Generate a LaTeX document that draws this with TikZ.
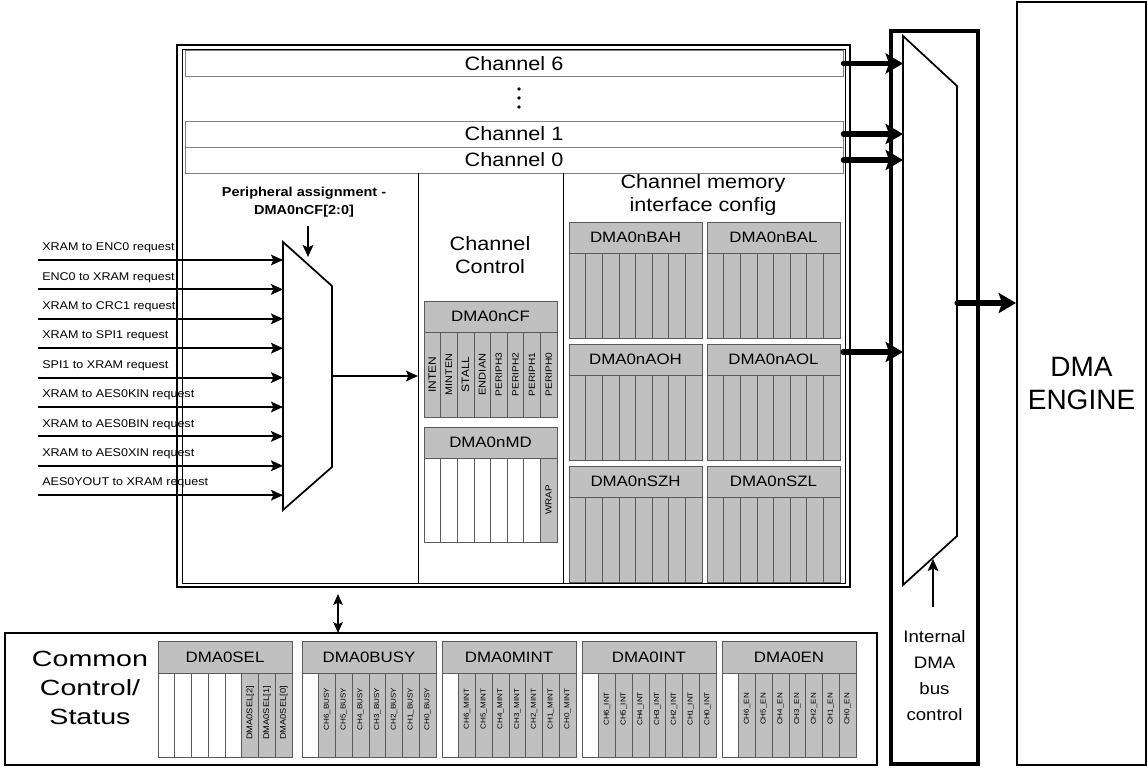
\documentclass[tikz,border=0pt]{standalone}
\usepackage{fontspec}
\setmainfont{Liberation Sans}[FakeStretch=1.12]
\newfontfamily\plainsans{Liberation Sans}
\newfontfamily\widesans{Liberation Sans}[FakeStretch=1.3]
\usetikzlibrary{arrows.meta, calc}
\definecolor{reggray}{HTML}{C0C0C0}
\definecolor{regline}{HTML}{5A5A5A}
\definecolor{chline}{HTML}{7F7F7F}

\begin{document}
\begin{tikzpicture}[x=0.75pt, y=-0.75pt,
    chrow/.style={draw=chline, line width=0.5pt, minimum width=493.5pt, minimum height=19.5pt,
                  inner sep=0pt, font=\fontsize{14.5}{16.5}\selectfont},
    coltxt/.style={font=\fontsize{14.5}{17.5}\selectfont, align=center, inner sep=0pt},
    regcell/.style={draw=regline, line width=0.5pt, fill=reggray},
    emptycell/.style={draw=regline, line width=0.5pt, fill=white},
    reghead/.style={font=\fontsize{11.3}{13}\selectfont, inner sep=0pt},
    bitlbl/.style={font=\fontsize{#1}{#1}\selectfont, rotate=90, inner sep=0pt},
    req/.style={font=\fontsize{8.4}{10}\selectfont, anchor=west, inner sep=0pt},
    sig/.style={-{Stealth[length=9pt, width=8pt, inset=1.8pt]}, line width=1.4pt},
    bus/.style={-{Stealth[length=13pt, width=15pt, inset=2.5pt]}, line width=3.8pt, line cap=round},
    mux/.style={draw, line width=1.3pt, fill=white, line join=miter},
]
    \useasboundingbox (0,0) rectangle (1148,767);

    % Channel block frame
    \draw[line width=1.8pt] (177,45) rectangle (850,587);
    \draw[line width=0.5pt] (182,49) rectangle (845,583);

    % Channels
    \node[chrow] (ch6) at (514,63.5) {Channel 6};
    \node[chrow] (ch1) at (514,134) {Channel 1};
    \node[chrow] (ch0) at (514,160) {Channel 0};
    \foreach \dy in {89,98,107}
        \fill (519,\dy) circle (1.4pt);

    % Columns
    \draw[line width=0.6pt] (418,173) -- (418,583);
    \draw[line width=0.6pt] (563,173) -- (563,583);
    \node[coltxt] (ctltitle) at (490,255) {Channel\\Control};
    \node[coltxt] (memtitle) at (703,195) {Channel memory\\interface config};

    % Peripheral assignment mux
    \draw[mux] (283,242) -- (332,286) -- (332,467) -- (283,510) -- cycle;
    \node[font=\bfseries\fontsize{9.7}{13.5}\selectfont, align=center] (perlbl) at (304,202)
        {Peripheral assignment -\\DMA0nCF[2:0]};
    \coordinate (lmuxsrc) at (308,226);
    \coordinate (lmuxsel) at (308,257);
    \draw[sig] (lmuxsrc) -- (lmuxsel);
    \foreach \lbl [count=\i from 0] in {XRAM to ENC0 request, ENC0 to XRAM request,
            XRAM to CRC1 request, XRAM to SPI1 request, SPI1 to XRAM request,
            XRAM to AES0KIN request, XRAM to AES0BIN request, XRAM to AES0XIN request,
            AES0YOUT to XRAM request} {
        \coordinate (in\i) at (38,260+29.4*\i);
        \coordinate (lmux\i) at (283,260+29.4*\i);
        \draw[sig] (in\i) -- (lmux\i);
        \node[req] (req\i) at (42,248+29.4*\i) {\lbl};
    }
    \coordinate (lmuxout) at (332,376);
    \coordinate (cfin) at (418,376);
    \draw[sig] (lmuxout) -- (cfin);

    % Channel control registers
    \draw[regcell] (424,301) rectangle (557,332);
    \node[reghead] (cf) at (490.5,316.5) {DMA0nCF};
    \foreach \lbl/\fs [count=\k from 0] in {INTEN/8, MINTEN/7.2, STALL/8, ENDIAN/7.4,
            PERIPH3/6.8, PERIPH2/6.8, PERIPH1/6.8, PERIPH0/6.8} {
        \draw[regcell] (424+16.625*\k,332) rectangle ++(16.625,85);
        \node[bitlbl=\fs] (cfb\k) at (432.3+16.625*\k,374.5) {\lbl};
    }
    \draw[regcell] (424,427) rectangle (557,458);
    \node[reghead] (md) at (490.5,442.5) {DMA0nMD};
    \foreach \k in {0,...,6}
        \draw[emptycell] (424+16.625*\k,458) rectangle ++(16.625,84);
    \draw[regcell] (540.375,458) rectangle (557,542);
    \node[bitlbl=6.6] (mdwrap) at (548.7,500) {WRAP};

    % Channel memory interface registers
    \foreach \rx/\ry/\rname/\rid in {569/222/DMA0nBAH/bah, 707/222/DMA0nBAL/bal,
            569/344/DMA0nAOH/aoh, 707/344/DMA0nAOL/aol,
            569/466/DMA0nSZH/szh, 707/466/DMA0nSZL/szl} {
        \draw[regcell] (\rx,\ry) rectangle ++(133,31);
        \node[reghead] (\rid) at (\rx+66.5,\ry+15.5) {\rname};
        \foreach \k in {0,...,7}
            \draw[regcell] (\rx+16.625*\k,\ry+31) rectangle ++(16.625,85);
    }

    % Internal DMA bus control
    \draw[line width=2.3pt] (891,31) rectangle (978,764);
    \draw[mux] (903,36) -- (957,86) -- (957,536) -- (903,585) -- cycle;
    \node[font=\fontsize{12.5}{19.5}\selectfont, align=center] (busctl) at (934.5,676)
        {Internal\\DMA\\bus\\control};
    \coordinate (rmuxsrc) at (933,607);
    \coordinate (rmuxsel) at (933,559);
    \draw[sig] (rmuxsrc) -- (rmuxsel);
    \coordinate (rmuxl) at (903,0);
    \coordinate (aolport) at (843,352);
    \draw[bus] (ch6.east) -- (ch6.east -| rmuxl);
    \draw[bus] (ch1.east) -- (ch1.east -| rmuxl);
    \draw[bus] (ch0.east) -- (ch0.east -| rmuxl);
    \draw[bus] (aolport) -- (aolport -| rmuxl);

    % DMA engine
    \node[draw, line width=1.5pt, minimum width=96.75pt, minimum height=572.25pt, inner sep=0pt,
          font=\plainsans\fontsize{21}{24.75}\selectfont, align=center] (engine) at (1081.5,383.5)
        {DMA\\ENGINE};
    \coordinate (rmuxout) at (957,303);
    \draw[bus] (rmuxout) -- (rmuxout -| engine.west);

    % Common control / status
    \draw[line width=2pt] (5,633) rectangle (877,765);
    \node[font=\widesans\fontsize{16.5}{21.75}\selectfont, align=center] (common) at (90,688)
        {Common\\Control/\\Status};
    \coordinate (frmport) at (338,594);
    \coordinate (cmnport) at (338,633);
    \draw[{Stealth[length=8pt, width=7pt, inset=1.5pt]}-{Stealth[length=8pt, width=7pt, inset=1.5pt]},
          line width=1.5pt] (frmport) -- (cmnport);

    \draw[regcell] (158,641) rectangle ++(134,32);
    \node[reghead] (sel) at (225,657) {DMA0SEL};
    \foreach \k in {0,...,4}
        \draw[emptycell] (158+16.75*\k,673) rectangle ++(16.75,84);
    \foreach \n [count=\k from 5] in {2,1,0} {
        \draw[regcell] (158+16.75*\k,673) rectangle ++(16.75,84);
        \node[bitlbl=6.2] (selb\n) at (166.4+16.75*\k,713) {DMA0SEL[\n]};
    }
    \foreach \rx/\rname/\rsuf in {302/DMA0BUSY/BUSY, 442/DMA0MINT/MINT,
            582/DMA0INT/INT, 722/DMA0EN/EN} {
        \draw[regcell] (\rx,641) rectangle ++(134,32);
        \node[reghead] (\rname) at (\rx+67,657) {\rname};
        \draw[emptycell] (\rx,673) rectangle ++(16.75,84);
        \foreach \n [count=\k] in {6,...,0} {
            \draw[regcell] (\rx+16.75*\k,673) rectangle ++(16.75,84);
            \node[bitlbl=5.4] (\rname-\n) at (\rx+8.4+16.75*\k,709) {CH\n\_\rsuf};
        }
    }
\end{tikzpicture}
\end{document}
